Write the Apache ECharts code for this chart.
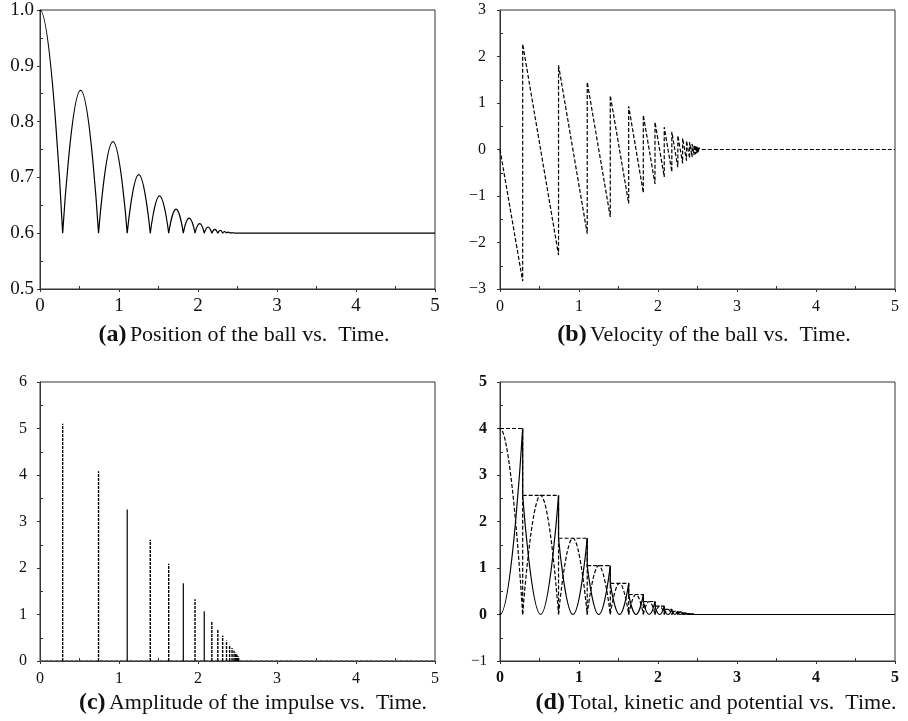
<!DOCTYPE html>
<html>
<head>
<meta charset="utf-8">
<script src="https://cdn.jsdelivr.net/npm/echarts@6/dist/echarts.min.js"></script>
<style>
html,body{margin:0;padding:0;background:#fff;}
#chart{width:908px;height:721px;}
</style>
</head>
<body>
<div id="chart"></div>
<script>
// ---------------- data ----------------
// times of floor impacts (s)
const impactT = [0.287, 0.741, 1.104, 1.396, 1.629, 1.814, 1.962, 2.079, 2.175, 2.251,
                 2.312, 2.361, 2.400, 2.431, 2.456, 2.476, 2.492, 2.505, 2.515];
// times of apex between consecutive impacts
const apexT = [0.514, 0.923, 1.250, 1.513, 1.722, 1.888, 2.021, 2.127, 2.213, 2.282,
               2.337, 2.381, 2.416, 2.444, 2.466, 2.484, 2.499, 2.510];
// (a) position
const startPos = 1.0;
const floorPos = 0.6;
const posApex = [0.856, 0.764, 0.705, 0.667, 0.643, 0.627, 0.617, 0.611, 0.607, 0.605,
                 0.603, 0.602, 0.601, 0.601, 0.600, 0.600, 0.600, 0.600];
// (b) velocity just before / just after each impact
const velBefore = [-2.83, -2.27, -1.81, -1.45, -1.16, -0.93, -0.74, -0.59, -0.48, -0.38,
                   -0.30, -0.24, -0.19, -0.16, -0.12, -0.10, -0.08, -0.06, -0.05];
const velAfter = [2.27, 1.81, 1.45, 1.16, 0.93, 0.74, 0.59, 0.48, 0.38, 0.30,
                  0.24, 0.19, 0.16, 0.12, 0.10, 0.08, 0.06, 0.05, 0.04];
const settleT = 2.55;
// (c) impulse amplitude at each impact
const impulseAmp = [5.10, 4.08, 3.26, 2.61, 2.09, 1.67, 1.33, 1.07, 0.86, 0.68,
                    0.55, 0.44, 0.35, 0.28, 0.22, 0.18, 0.14, 0.11, 0.09];
// (d) total energy level before each impact
const energy = [4.00, 2.56, 1.64, 1.05, 0.67, 0.43, 0.28, 0.18, 0.11, 0.07,
                0.05, 0.03, 0.02, 0.01, 0.01, 0.00, 0.00, 0.00, 0.00];
const tEnd = 5;
// captions
const captionTags = ['(a)', '(b)', '(c)', '(d)'];
const captionTexts = ['Position of the ball vs.  Time.', 'Velocity of the ball vs.  Time.',
                      'Amplitude of the impulse vs.  Time.', 'Total, kinetic and potential vs.  Time.'];
// spikes in (c) that render solid in the reference (style choice)
const solidSpikes = [2, 5, 7];

// ---------------- build series data ----------------
const GAP = ['-', '-'];
const n = impactT.length;

// (a)
const posData = [[-impactT[0], floorPos], [0, startPos], [impactT[0], floorPos], GAP];
for (let k = 1; k < n; k++) {
  posData.push([impactT[k - 1], floorPos], [apexT[k - 1], posApex[k - 1]], [impactT[k], floorPos], GAP);
}
posData.push([impactT[n - 1], floorPos], [tEnd, floorPos]);

// (b)
const velData = [[0, 0]];
for (let k = 0; k < n; k++) velData.push([impactT[k], velBefore[k]], [impactT[k], velAfter[k]]);
velData.push([settleT, 0], [tEnd, 0]);

// (c)
const spikeDashed = [], spikeSolid = [];
for (let k = 0; k < n; k++) {
  const seg = [[impactT[k], 0], [impactT[k], impulseAmp[k]], GAP];
  if (solidSpikes.indexOf(k) >= 0) spikeSolid.push(...seg); else spikeDashed.push(...seg);
}
const baseData = [[0, 0], [tEnd, 0]];

// (d)
const potData = [[-impactT[0], 0], [0, energy[0]], [impactT[0], 0], GAP];
const kinData = [[-impactT[0], energy[0]], [0, 0], [impactT[0], energy[0]], GAP];
for (let k = 1; k < n; k++) {
  potData.push([impactT[k - 1], 0], [apexT[k - 1], energy[k]], [impactT[k], 0], GAP);
  kinData.push([impactT[k - 1], energy[k]], [apexT[k - 1], 0], [impactT[k], energy[k]], GAP);
}
kinData.push([impactT[n - 1], 0], [tEnd, 0]);
const dropData = [];
for (let k = 0; k < n - 1; k++) dropData.push([impactT[k], energy[k]], [impactT[k], energy[k + 1]], GAP);
const totData = [[0, energy[0]]];
for (let k = 0; k < n; k++) {
  totData.push([impactT[k], energy[k]], [impactT[k], 0], GAP);
  if (k < n - 1) totData.push([impactT[k], energy[k + 1]]);
}
totData.push([impactT[n - 1], 0], [tEnd, 0]);

// ---------------- chart ----------------
const FONT = 'Liberation Serif';
const AX = '#333';
const grids = [
  {left: 40, top: 10, width: 395, height: 279},
  {left: 500, top: 10, width: 395, height: 279},
  {left: 40, top: 382, width: 395, height: 279},
  {left: 500, top: 382, width: 395, height: 279}
].map(g => Object.assign(g, {show: true, borderColor: AX, borderWidth: 1, backgroundColor: 'transparent', containLabel: false}));

const minus = v => (v < 0 ? '\u2212' + Math.abs(v) : String(v));

function xAxis(i, fontSize, margin, bold) {
  return {
    type: 'value', gridIndex: i, min: 0, max: 5, interval: 1,
    axisLine: {show: true, onZero: false, lineStyle: {color: AX, width: 1}},
    axisTick: {show: true, length: 3, lineStyle: {color: AX, width: 1}},
    minorTick: {show: true, splitNumber: 2, length: -3, lineStyle: {color: AX, width: 1}},
    splitLine: {show: false}, minorSplitLine: {show: false},
    axisLabel: {show: true, showMinLabel: true, showMaxLabel: true, color: '#111', fontFamily: FONT,
                fontSize: fontSize, margin: margin, fontWeight: bold ? 'bold' : 'normal'}
  };
}
function yAxis(i, min, max, interval, fontSize, margin, formatter, rich) {
  const lbl = {show: true, showMinLabel: true, showMaxLabel: true, color: '#111', fontFamily: FONT,
               fontSize: fontSize, margin: margin, formatter: formatter};
  if (rich) lbl.rich = rich;
  return {
    type: 'value', gridIndex: i, min: min, max: max, interval: interval,
    axisLine: {show: true, onZero: false, lineStyle: {color: AX, width: 1}},
    axisTick: {show: true, length: 3, lineStyle: {color: AX, width: 1}},
    minorTick: {show: true, splitNumber: 2, length: -3, lineStyle: {color: AX, width: 1}},
    splitLine: {show: false}, minorSplitLine: {show: false},
    axisLabel: lbl
  };
}

const base = {type: 'line', showSymbol: false, symbol: 'none', silent: true, animation: false, connectNulls: false, clip: true};
const solid = {color: '#000', width: 1.2};
const dashed = {color: '#000', width: 1.2, type: [4, 2]};

const capX = [244, 704, 253, 716];
const capY = [335, 335, 703, 703];

const option = {
  animation: false,
  backgroundColor: '#fff',
  grid: grids,
  xAxis: [xAxis(0, 19, 8, false), xAxis(1, 16, 10, false), xAxis(2, 16, 10, false), xAxis(3, 16, 9, true)],
  yAxis: [
    yAxis(0, 0.5, 1.0, 0.1, 19, 6, v => v.toFixed(1)),
    yAxis(1, -3, 3, 1, 16, 14, minus),
    yAxis(2, 0, 6, 1, 16, 13, minus),
    yAxis(3, -1, 5, 1, 16, 13, v => (v < 0 ? '{r|' + minus(v) + '}' : '{b|' + v + '}'),
          {r: {fontFamily: FONT, fontSize: 15, color: '#111'},
           b: {fontFamily: FONT, fontSize: 16, fontWeight: 'bold', color: '#111'}})
  ],
  series: [
    Object.assign({}, base, {name: 'position', xAxisIndex: 0, yAxisIndex: 0, smooth: 0.5, data: posData, lineStyle: solid}),
    Object.assign({}, base, {name: 'velocity', xAxisIndex: 1, yAxisIndex: 1, data: velData, lineStyle: dashed}),
    Object.assign({}, base, {name: 'baseline', xAxisIndex: 2, yAxisIndex: 2, data: baseData, lineStyle: {color: '#555', width: 1.3, type: [3, 2]}}),
    Object.assign({}, base, {name: 'impulse', xAxisIndex: 2, yAxisIndex: 2, data: spikeDashed, lineStyle: {color: '#000', width: 1.4, type: [3, 1]}}),
    Object.assign({}, base, {name: 'impulse2', xAxisIndex: 2, yAxisIndex: 2, data: spikeSolid, lineStyle: solid}),
    Object.assign({}, base, {name: 'potential', xAxisIndex: 3, yAxisIndex: 3, smooth: 0.5, data: potData, lineStyle: dashed}),
    Object.assign({}, base, {name: 'kinetic', xAxisIndex: 3, yAxisIndex: 3, smooth: 0.5, data: kinData, lineStyle: solid}),
    Object.assign({}, base, {name: 'kineticDrop', xAxisIndex: 3, yAxisIndex: 3, data: dropData, lineStyle: solid}),
    Object.assign({}, base, {name: 'total', xAxisIndex: 3, yAxisIndex: 3, data: totData, lineStyle: dashed})
  ],
  graphic: captionTags.map((tag, i) => ({
    type: 'text', x: capX[i], y: capY[i], silent: true,
    style: {
      text: '{b|' + tag + '} {n|' + captionTexts[i] + '}',
      align: 'center', verticalAlign: 'middle',
      rich: {
        b: {fontFamily: FONT, fontWeight: 'bold', fontSize: 24, fill: '#111'},
        n: {fontFamily: FONT, fontSize: 22, fill: '#111'}
      }
    }
  }))
};

const chart = echarts.init(document.getElementById('chart'), null, {renderer: 'canvas'});
chart.setOption(option);
</script>
</body>
</html>
